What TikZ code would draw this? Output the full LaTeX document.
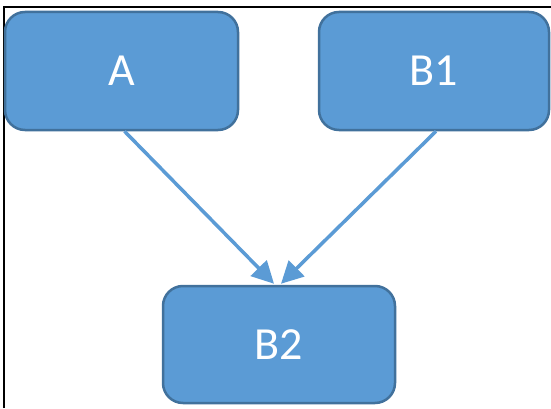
\documentclass[tikz,border=0pt]{standalone}
\usepackage{fontspec}
\setmainfont{Carlito}
\usetikzlibrary{arrows.meta}
\definecolor{boxfill}{HTML}{5B9BD5}
\definecolor{boxline}{HTML}{41719C}
\tikzset{
  blk/.style={draw=boxline, line width=2.5pt, fill=boxfill, rounded corners=20pt,
    text=white, font=\fontsize{46}{50}\selectfont, inner sep=0pt},
  conn/.style={draw=boxfill, line width=3.5pt, -{Triangle[width=22pt,length=22pt]}}
}
\begin{document}
\begin{tikzpicture}[x=1pt,y=1pt]
\useasboundingbox (0,0) rectangle (551,408);
\fill[white] (0,0) rectangle (551,408);
\draw[black, line width=2pt] (3.5,0) -- (3.5,401) -- (551,401);
\node[blk, minimum width=233pt, minimum height=118pt] (A) at (121.5,337) {A};
\node[blk, minimum width=230pt, minimum height=118pt] (B1) at (434,337) {B1};
\node[blk, minimum width=232pt, minimum height=117pt] (B2) at (279,63.5) {B2};
\draw[conn] ([xshift=3pt]A.south) -- ([xshift=-5pt,yshift=1pt]B2.north);
\draw[conn] ([xshift=2pt]B1.south) -- ([xshift=2pt,yshift=1pt]B2.north);
\end{tikzpicture}
\end{document}
